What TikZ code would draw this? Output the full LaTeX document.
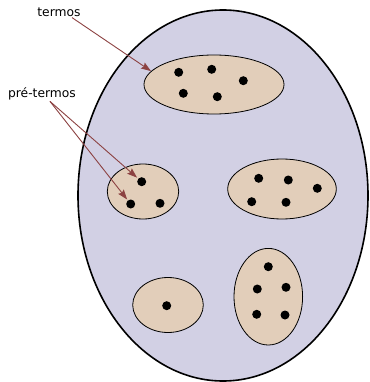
\documentclass[tikz,border=0pt]{standalone}
\usepackage{fontspec}
\setmainfont{DejaVu Sans}
\usepackage{xcolor}
\usetikzlibrary{arrows.meta,positioning,shapes.geometric}
\definecolor{setfill}{RGB}{210,208,228}
\definecolor{classfill}{RGB}{226,206,186}
\definecolor{arrowred}{RGB}{140,66,66}

\begin{document}
\begin{tikzpicture}[
  x=1pt, y=-1pt,
  set/.style={draw, ellipse, fill=setfill, line width=1.6pt, inner sep=0pt},
  class/.style={draw, ellipse, fill=classfill, line width=0.8pt, inner sep=0pt},
  dot/.style={circle, fill=black, inner sep=0pt, minimum size=9pt},
  arrow/.style={-{Stealth[length=10pt,width=7pt,inset=1.5pt]}, arrowred, line width=0.9pt},
  lab/.style={font=\fontsize{12.3}{14}\selectfont, inner sep=1pt}
]
\useasboundingbox (0,0) rectangle (369,382);
\node[set, minimum width=290pt, minimum height=371pt] (terms) at (223,195.5) {};
\foreach \name/\x/\y/\w/\h in {topset/214/84.5/140/59, leftset/143/191.5/71.4/55,
    rightset/282/189/108.6/60, lowset/168/305/70.6/55, tallset/268.3/296.7/68.6/96.6} {
  \node[class, minimum width=\w pt, minimum height=\h pt] (\name) at (\x,\y) {};
}
\foreach \n/\x/\y in {t1/178.7/72.3, t2/211.7/69.3, t3/243.3/80.7, t4/183.3/93.3, t5/217.3/96.7,
    l1/141.7/181.7, l2/130.7/204, l3/160/203.3,
    r1/258.7/178.3, r2/288.3/180, r3/317.3/188.3, r4/251.7/201.7, r5/286/202.3,
    b1/166.7/305.7,
    v1/268.3/266.7, v2/257.3/289, v3/286/287.3, v4/256.7/314.3, v5/285/315} {
  \node[dot] (\n) at (\x,\y) {};
}
\node[lab] (termos) at (59,12) {termos};
\node[lab] (pretermos) at (42,94) {pré-termos};
\draw[arrow] ([xshift=13pt]termos.south) -- (topset.168);
\draw[arrow, shorten >=1.5pt] ([xshift=8pt]pretermos.south) -- (l1);
\draw[arrow, shorten >=1pt] ([xshift=8pt]pretermos.south) -- (l2);
\end{tikzpicture}
\end{document}
